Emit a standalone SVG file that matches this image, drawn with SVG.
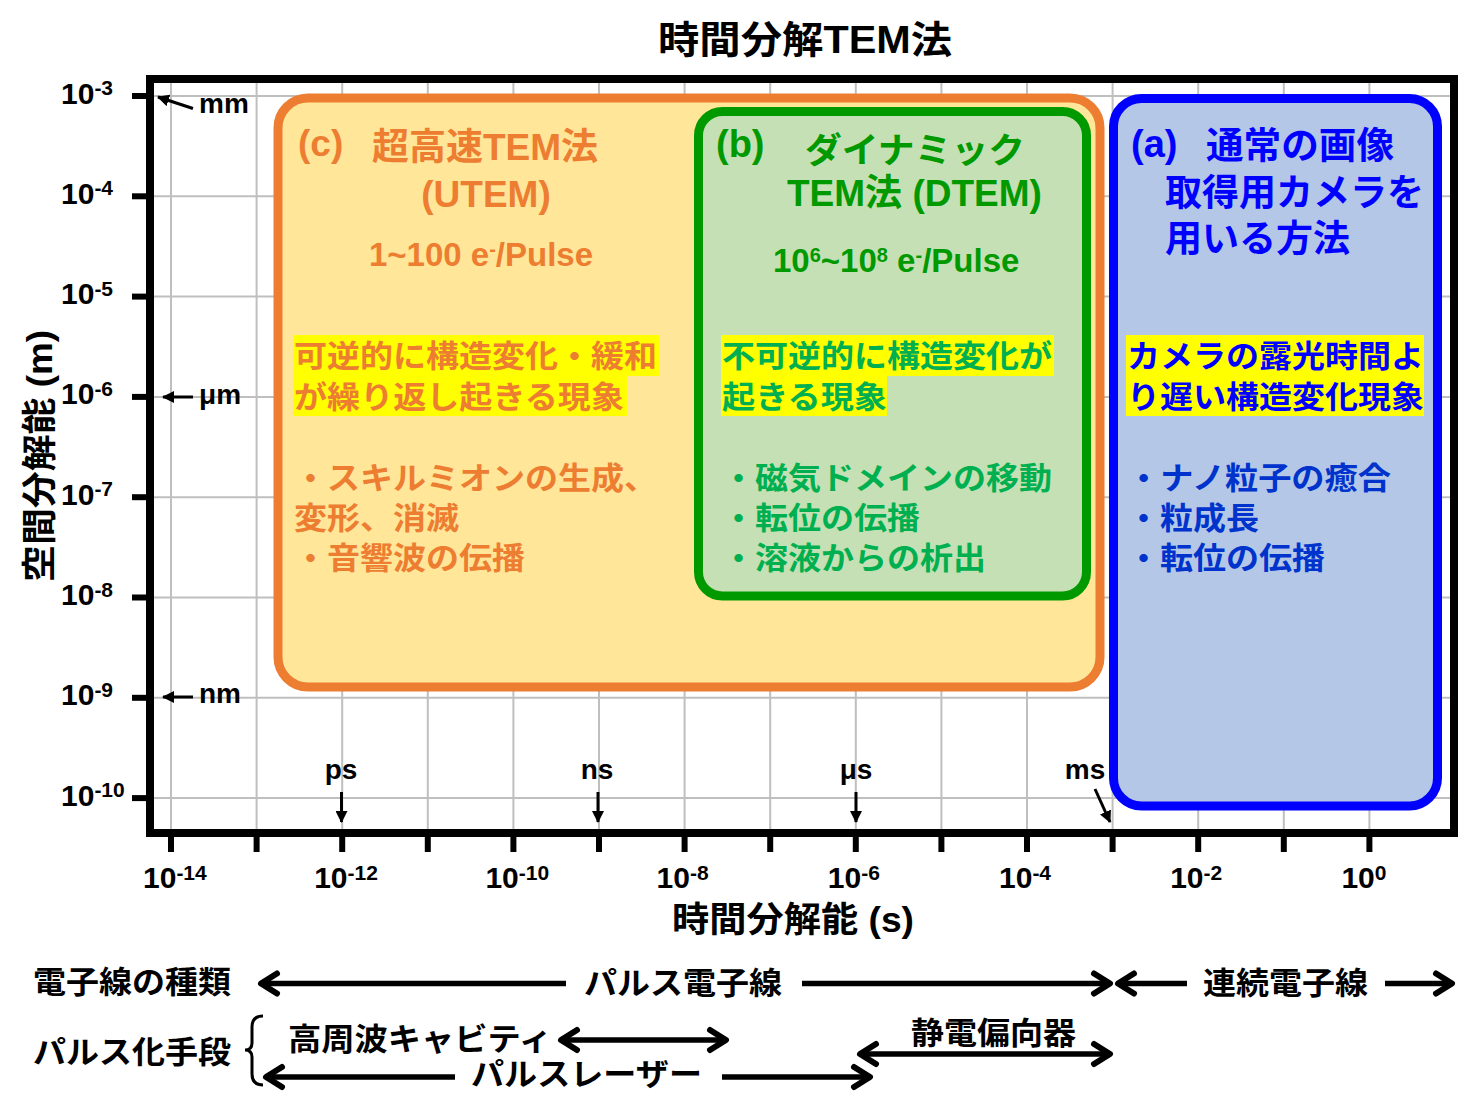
<svg xmlns="http://www.w3.org/2000/svg" width="1479" height="1117" viewBox="0 0 1479 1117">
<style>
.lat{font-family:"Liberation Sans","Noto Sans CJK JP",sans-serif;font-weight:bold}
.jp{font-family:"Liberation Sans","Noto Sans CJK JP",sans-serif;font-weight:bold}
.tk{font-family:"Liberation Sans",sans-serif;font-weight:bold;font-size:30px;fill:#000}
.sup{font-size:21px}
.grid line{stroke:#bfbfbf;stroke-width:2}
.ytick line,.xtick line{stroke:#000;stroke-width:6}
.thin{stroke:#000;stroke-width:3;fill:none}
.thick{stroke:#000;stroke-width:5.5;fill:none}
.or{fill:#ED7D31}
.gr{fill:#009900}
.gr2{fill:#00B050}
.bl{fill:#0000FF}
.bl2{fill:#0033CC}
.hl{fill:#FFFF00}
</style>
<defs>
<marker id="tri" markerUnits="userSpaceOnUse" viewBox="0 0 12 12" markerWidth="12" markerHeight="12" refX="11" refY="6" orient="auto"><path d="M0,0 L12,6 L0,12 z" fill="#000"/></marker>
<marker id="chev" markerUnits="userSpaceOnUse" viewBox="-24 -16 30 32" markerWidth="30" markerHeight="32" refX="0" refY="0" orient="auto-start-reverse"><path d="M-16,-10 L0,0 L-16,10" fill="none" stroke="#000" stroke-width="6" stroke-linecap="round" stroke-linejoin="round"/></marker>
</defs>
<rect width="1479" height="1117" fill="#fff"/>

<text class="jp" x="805" y="53" font-size="38" text-anchor="middle" textLength="294" lengthAdjust="spacingAndGlyphs">時間分解TEM法</text>

<g class="grid">
<line x1="150" y1="96" x2="1454" y2="96"/>
<line x1="150" y1="196.3" x2="1454" y2="196.3"/>
<line x1="150" y1="296.6" x2="1454" y2="296.6"/>
<line x1="150" y1="396.9" x2="1454" y2="396.9"/>
<line x1="150" y1="497.2" x2="1454" y2="497.2"/>
<line x1="150" y1="597.5" x2="1454" y2="597.5"/>
<line x1="150" y1="697.8" x2="1454" y2="697.8"/>
<line x1="150" y1="798.1" x2="1454" y2="798.1"/>
<line x1="171" y1="79" x2="171" y2="833"/>
<line x1="256.6" y1="79" x2="256.6" y2="833"/>
<line x1="342.2" y1="79" x2="342.2" y2="833"/>
<line x1="427.8" y1="79" x2="427.8" y2="833"/>
<line x1="513.4" y1="79" x2="513.4" y2="833"/>
<line x1="599" y1="79" x2="599" y2="833"/>
<line x1="684.6" y1="79" x2="684.6" y2="833"/>
<line x1="770.2" y1="79" x2="770.2" y2="833"/>
<line x1="855.8" y1="79" x2="855.8" y2="833"/>
<line x1="941.4" y1="79" x2="941.4" y2="833"/>
<line x1="1027" y1="79" x2="1027" y2="833"/>
<line x1="1112.6" y1="79" x2="1112.6" y2="833"/>
<line x1="1198.2" y1="79" x2="1198.2" y2="833"/>
<line x1="1283.8" y1="79" x2="1283.8" y2="833"/>
<line x1="1369.4" y1="79" x2="1369.4" y2="833"/>
</g>

<g id="node-c">
<rect x="278" y="98" width="822" height="589" rx="30" fill="#FFE699" stroke="#ED7D31" stroke-width="9"/>
<text class="lat or" x="298" y="156" font-size="37">(c)</text>
<text class="jp or" x="372" y="160" font-size="37">超高速TEM法</text>
<text class="lat or" x="486" y="207" font-size="37" text-anchor="middle">(UTEM)</text>
<text class="lat or" x="481" y="266" font-size="33" text-anchor="middle">1~100 e<tspan dy="-10" font-size="20">-</tspan><tspan dy="10">/Pulse</tspan></text>
<rect class="hl" x="293" y="335" width="367" height="41"/>
<rect class="hl" x="293" y="375" width="334" height="41"/>
<text class="jp or" x="294" y="367" font-size="31" textLength="363" lengthAdjust="spacingAndGlyphs">可逆的に構造変化・緩和</text>
<text class="jp or" x="294" y="408" font-size="31" textLength="330" lengthAdjust="spacingAndGlyphs">が繰り返し起きる現象</text>
<text class="jp or" x="294" y="489" font-size="31" textLength="363" lengthAdjust="spacingAndGlyphs">・スキルミオンの生成、</text>
<text class="jp or" x="294" y="529" font-size="31" textLength="165" lengthAdjust="spacingAndGlyphs">変形、消滅</text>
<text class="jp or" x="294" y="569" font-size="31" textLength="231" lengthAdjust="spacingAndGlyphs">・音響波の伝播</text>
</g>

<g id="node-b">
<rect x="698.5" y="111.5" width="388" height="484.5" rx="24" fill="#C5E0B4" stroke="#009900" stroke-width="9"/>
<text class="lat gr" x="716" y="157" font-size="38">(b)</text>
<text class="jp gr" x="805" y="163" font-size="35" textLength="220" lengthAdjust="spacingAndGlyphs">ダイナミック</text>
<text class="jp gr" x="787" y="206" font-size="37">TEM法 (DTEM)</text>
<text class="lat gr" x="773" y="272" font-size="33">10<tspan dy="-10" font-size="20">6</tspan><tspan dy="10">~10</tspan><tspan dy="-10" font-size="20">8</tspan><tspan dy="10"> e</tspan><tspan dy="-10" font-size="20">-</tspan><tspan dy="10">/Pulse</tspan></text>
<rect class="hl" x="721" y="335" width="333" height="41"/>
<rect class="hl" x="721" y="375" width="166" height="41"/>
<text class="jp gr2" x="722" y="367" font-size="31" textLength="330" lengthAdjust="spacingAndGlyphs">不可逆的に構造変化が</text>
<text class="jp gr2" x="722" y="408" font-size="31" textLength="165" lengthAdjust="spacingAndGlyphs">起きる現象</text>
<text class="jp gr2" x="722" y="489" font-size="31" textLength="330" lengthAdjust="spacingAndGlyphs">・磁気ドメインの移動</text>
<text class="jp gr2" x="722" y="529" font-size="31" textLength="198" lengthAdjust="spacingAndGlyphs">・転位の伝播</text>
<text class="jp gr2" x="722" y="569" font-size="31" textLength="264" lengthAdjust="spacingAndGlyphs">・溶液からの析出</text>
</g>

<g id="node-a">
<rect x="1113.5" y="98.5" width="324" height="707.5" rx="28" fill="#B4C7E7" stroke="#0000FF" stroke-width="9"/>
<text class="lat bl" x="1131" y="157" font-size="38">(a)</text>
<text class="jp bl" x="1206" y="159" font-size="37" textLength="188" lengthAdjust="spacingAndGlyphs">通常の画像</text>
<text class="jp bl" x="1165" y="206" font-size="37" textLength="259" lengthAdjust="spacingAndGlyphs">取得用カメラを</text>
<text class="jp bl" x="1165" y="252" font-size="37" textLength="185" lengthAdjust="spacingAndGlyphs">用いる方法</text>
<rect class="hl" x="1126" y="335" width="298" height="41"/>
<rect class="hl" x="1126" y="375" width="298" height="41"/>
<text class="jp bl" x="1127" y="367" font-size="31" textLength="297" lengthAdjust="spacingAndGlyphs">カメラの露光時間よ</text>
<text class="jp bl" x="1127" y="408" font-size="31" textLength="297" lengthAdjust="spacingAndGlyphs">り遅い構造変化現象</text>
<text class="jp bl2" x="1127" y="489" font-size="31" textLength="264" lengthAdjust="spacingAndGlyphs">・ナノ粒子の癒合</text>
<text class="jp bl2" x="1127" y="529" font-size="31" textLength="132" lengthAdjust="spacingAndGlyphs">・粒成長</text>
<text class="jp bl2" x="1127" y="569" font-size="31" textLength="198" lengthAdjust="spacingAndGlyphs">・転位の伝播</text>
</g>

<rect x="150" y="79" width="1304" height="754" fill="none" stroke="#000" stroke-width="8"/>

<g class="ytick">
<line x1="132" y1="96" x2="150" y2="96"/>
<line x1="132" y1="196.3" x2="150" y2="196.3"/>
<line x1="132" y1="296.6" x2="150" y2="296.6"/>
<line x1="132" y1="396.9" x2="150" y2="396.9"/>
<line x1="132" y1="497.2" x2="150" y2="497.2"/>
<line x1="132" y1="597.5" x2="150" y2="597.5"/>
<line x1="132" y1="697.8" x2="150" y2="697.8"/>
<line x1="132" y1="798.1" x2="150" y2="798.1"/>
</g>
<g class="xtick">
<line x1="171" y1="833" x2="171" y2="852"/>
<line x1="256.6" y1="833" x2="256.6" y2="852"/>
<line x1="342.2" y1="833" x2="342.2" y2="852"/>
<line x1="427.8" y1="833" x2="427.8" y2="852"/>
<line x1="513.4" y1="833" x2="513.4" y2="852"/>
<line x1="599" y1="833" x2="599" y2="852"/>
<line x1="684.6" y1="833" x2="684.6" y2="852"/>
<line x1="770.2" y1="833" x2="770.2" y2="852"/>
<line x1="855.8" y1="833" x2="855.8" y2="852"/>
<line x1="941.4" y1="833" x2="941.4" y2="852"/>
<line x1="1027" y1="833" x2="1027" y2="852"/>
<line x1="1112.6" y1="833" x2="1112.6" y2="852"/>
<line x1="1198.2" y1="833" x2="1198.2" y2="852"/>
<line x1="1283.8" y1="833" x2="1283.8" y2="852"/>
<line x1="1369.4" y1="833" x2="1369.4" y2="852"/>
</g>

<g id="ylabels">
<text class="tk" x="61" y="103.5">10<tspan class="sup" dy="-8.5">-3</tspan></text>
<text class="tk" x="61" y="203.8">10<tspan class="sup" dy="-8.5">-4</tspan></text>
<text class="tk" x="61" y="304.1">10<tspan class="sup" dy="-8.5">-5</tspan></text>
<text class="tk" x="61" y="404.4">10<tspan class="sup" dy="-8.5">-6</tspan></text>
<text class="tk" x="61" y="504.7">10<tspan class="sup" dy="-8.5">-7</tspan></text>
<text class="tk" x="61" y="605">10<tspan class="sup" dy="-8.5">-8</tspan></text>
<text class="tk" x="61" y="705.3">10<tspan class="sup" dy="-8.5">-9</tspan></text>
<text class="tk" x="61" y="805.6">10<tspan class="sup" dy="-8.5">-10</tspan></text>
</g>
<g id="xlabels">
<text class="tk" x="143" y="888">10<tspan class="sup" dy="-8.5">-14</tspan></text>
<text class="tk" x="314.2" y="888">10<tspan class="sup" dy="-8.5">-12</tspan></text>
<text class="tk" x="485.4" y="888">10<tspan class="sup" dy="-8.5">-10</tspan></text>
<text class="tk" x="656.6" y="888">10<tspan class="sup" dy="-8.5">-8</tspan></text>
<text class="tk" x="827.8" y="888">10<tspan class="sup" dy="-8.5">-6</tspan></text>
<text class="tk" x="999" y="888">10<tspan class="sup" dy="-8.5">-4</tspan></text>
<text class="tk" x="1170.2" y="888">10<tspan class="sup" dy="-8.5">-2</tspan></text>
<text class="tk" x="1341.4" y="888">10<tspan class="sup" dy="-8.5">0</tspan></text>
</g>

<text class="jp" transform="translate(52,456) rotate(-90)" font-size="35" text-anchor="middle" textLength="252" lengthAdjust="spacingAndGlyphs">空間分解能 (m)</text>
<text class="jp" x="793" y="932" font-size="35" text-anchor="middle" textLength="242" lengthAdjust="spacingAndGlyphs">時間分解能 (s)</text>

<g id="unit-labels" class="lat" font-size="28">
<text x="199" y="113">mm</text>
<text x="199" y="404">μm</text>
<text x="199" y="703">nm</text>
<text x="341" y="779" text-anchor="middle">ps</text>
<text x="597" y="779" text-anchor="middle">ns</text>
<text x="856" y="779" text-anchor="middle">μs</text>
<text x="1085" y="779" text-anchor="middle">ms</text>
</g>

<g id="bottom-labels" class="jp" font-size="31">
<text x="33" y="993" textLength="198" lengthAdjust="spacingAndGlyphs">電子線の種類</text>
<text x="584" y="994" textLength="198" lengthAdjust="spacingAndGlyphs">パルス電子線</text>
<text x="1203" y="994" textLength="165" lengthAdjust="spacingAndGlyphs">連続電子線</text>
<text x="33" y="1063" textLength="198" lengthAdjust="spacingAndGlyphs">パルス化手段</text>
<text x="288" y="1050" textLength="264" lengthAdjust="spacingAndGlyphs">高周波キャビティ</text>
<text x="911" y="1044" textLength="165" lengthAdjust="spacingAndGlyphs">静電偏向器</text>
<text x="471" y="1085" textLength="231" lengthAdjust="spacingAndGlyphs">パルスレーザー</text>
</g>

<g id="connectors">
<line class="thin" x1="193" y1="108.5" x2="158" y2="97" marker-end="url(#tri)"/>
<line class="thin" x1="193" y1="397" x2="163" y2="397" marker-end="url(#tri)"/>
<line class="thin" x1="193" y1="697" x2="163" y2="697" marker-end="url(#tri)"/>
<line class="thin" x1="341.5" y1="792" x2="341.5" y2="822" marker-end="url(#tri)"/>
<line class="thin" x1="598" y1="792" x2="598" y2="822" marker-end="url(#tri)"/>
<line class="thin" x1="856" y1="792" x2="856" y2="822" marker-end="url(#tri)"/>
<line class="thin" x1="1095" y1="789" x2="1110" y2="822" marker-end="url(#tri)"/>

<line class="thick" x1="566" y1="983.5" x2="261" y2="983.5" marker-end="url(#chev)"/>
<line class="thick" x1="802" y1="983.5" x2="1110" y2="983.5" marker-end="url(#chev)"/>
<line class="thick" x1="1187" y1="983.5" x2="1118" y2="983.5" marker-end="url(#chev)"/>
<line class="thick" x1="1385" y1="983.5" x2="1452" y2="983.5" marker-end="url(#chev)"/>
<line class="thick" x1="561" y1="1040" x2="726" y2="1040" marker-start="url(#chev)" marker-end="url(#chev)"/>
<line class="thick" x1="860" y1="1054" x2="1110" y2="1054" marker-start="url(#chev)" marker-end="url(#chev)"/>
<line class="thick" x1="455" y1="1077" x2="266" y2="1077" marker-end="url(#chev)"/>
<line class="thick" x1="722" y1="1077" x2="870" y2="1077" marker-end="url(#chev)"/>
<path d="M263,1016 Q252,1016 252,1027 L252,1043 Q252,1050 245,1050 Q252,1050 252,1057 L252,1074 Q252,1085 263,1085" fill="none" stroke="#000" stroke-width="3"/>
</g>
</svg>
